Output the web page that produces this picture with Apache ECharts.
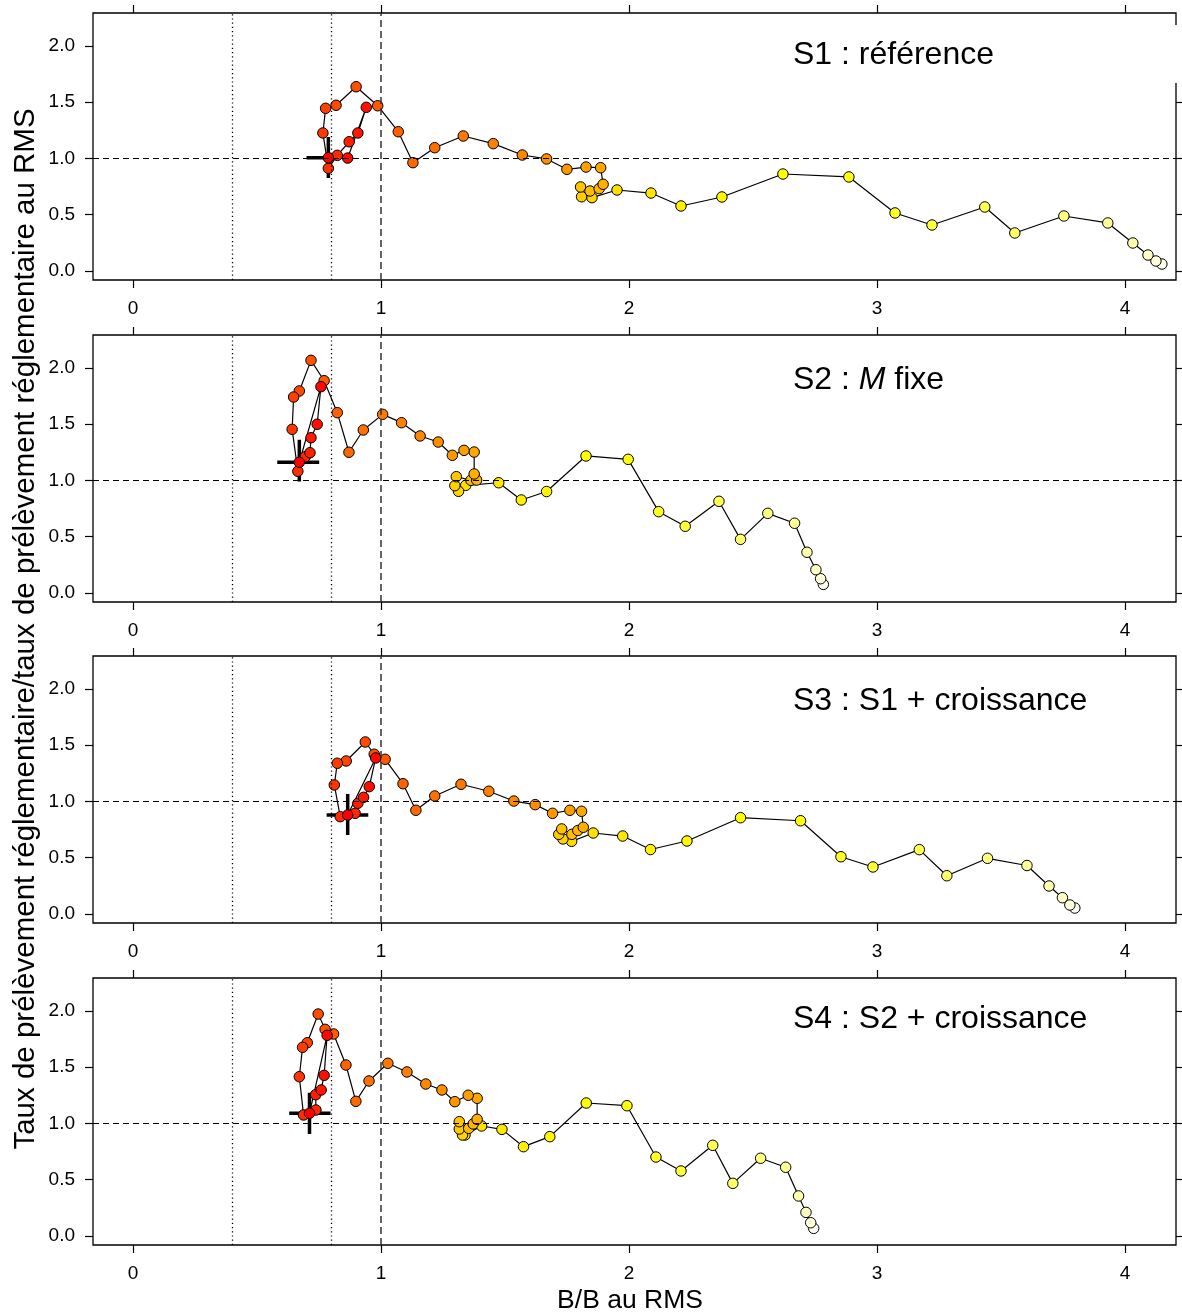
<!DOCTYPE html>
<html>
<head>
<meta charset="utf-8">
<title>Trajectoires B/B RMS</title>
<script src="https://cdn.jsdelivr.net/npm/echarts@6.0.0/dist/echarts.min.js"></script>
<style>
  html, body { margin: 0; padding: 0; background: #fff; }
  #chart { width: 1182px; height: 1314px; }
</style>
</head>
<body>
<div id="chart"></div>
<script>
// trajectories, oldest year first (B/B au RMS, F/F au RMS)
const s1X = [4.149, 4.125, 4.093, 4.032, 3.931, 3.754, 3.556, 3.435, 3.222, 3.073, 2.887, 2.621, 2.375, 2.210, 2.089, 1.952,
  1.851, 1.809, 1.805, 1.843, 1.880, 1.896,
  1.886, 1.827, 1.750, 1.668, 1.570, 1.453, 1.332, 1.217, 1.129, 1.070, 0.987, 0.900, 0.819, 0.777, 0.766,
  0.788, 0.824, 0.872, 0.907, 0.941, 0.866, 0.788]
const s1Y = [0.062, 0.089, 0.142, 0.249, 0.427, 0.489, 0.338, 0.569, 0.409, 0.516, 0.836, 0.862, 0.658, 0.578, 0.693, 0.720,
  0.652, 0.660, 0.747, 0.711, 0.732, 0.771,
  0.918, 0.924, 0.904, 0.996, 1.031, 1.132, 1.200, 1.096, 0.963, 1.238, 1.469, 1.638, 1.473, 1.446, 1.227,
  0.913, 1.028, 1.149, 1.227, 1.455, 1.004, 1.007]

const s2X = [2.784, 2.773, 2.754, 2.718, 2.668, 2.560, 2.450, 2.363, 2.227, 2.120, 1.997, 1.827, 1.668, 1.566, 1.475,
  1.342, 1.313, 1.298, 1.304, 1.363, 1.386, 1.376,
  1.376, 1.335, 1.288, 1.231, 1.158, 1.083, 1.007, 0.929, 0.871, 0.824, 0.771, 0.718, 0.671, 0.648, 0.642,
  0.665, 0.695, 0.714, 0.718, 0.743, 0.758, 0.671]
const s2Y = [0.077, 0.127, 0.207, 0.362, 0.620, 0.708, 0.477, 0.815, 0.593, 0.723, 1.188, 1.218, 0.902, 0.827, 0.980,
  0.957, 0.904, 0.954, 1.034, 1.002, 1.004, 1.058,
  1.253, 1.268, 1.224, 1.342, 1.396, 1.514, 1.588, 1.449, 1.251, 1.603, 1.887, 2.068, 1.796, 1.742, 1.455,
  1.082, 1.212, 1.247, 1.380, 1.500, 1.834, 1.162]

const s3X = [3.798, 3.778, 3.748, 3.694, 3.605, 3.446, 3.282, 3.171, 2.984, 2.855, 2.692, 2.450, 2.234, 2.087, 1.975, 1.856,
  1.769, 1.734, 1.717, 1.729, 1.770, 1.794, 1.816,
  1.809, 1.762, 1.692, 1.622, 1.536, 1.435, 1.323, 1.217, 1.141, 1.089, 1.017, 0.973, 0.937, 0.860, 0.824, 0.812,
  0.836, 0.896, 0.907, 0.930, 0.953, 0.979, 0.866]
const s3Y = [0.053, 0.080, 0.145, 0.249, 0.431, 0.495, 0.340, 0.572, 0.418, 0.509, 0.829, 0.856, 0.649, 0.573, 0.693, 0.720,
  0.646, 0.667, 0.708, 0.756, 0.708, 0.742, 0.771,
  0.913, 0.922, 0.895, 0.972, 1.004, 1.091, 1.153, 1.049, 0.922, 1.158, 1.375, 1.420, 1.529, 1.360, 1.340, 1.147,
  0.865, 0.895, 0.984, 1.037, 1.132, 1.387, 0.880]

const s4X = [2.745, 2.733, 2.714, 2.684, 2.632, 2.531, 2.419, 2.338, 2.210, 2.109, 1.992, 1.828, 1.681, 1.575, 1.488, 1.406,
  1.339, 1.329, 1.316, 1.316, 1.354, 1.372, 1.388,
  1.388, 1.352, 1.298, 1.246, 1.181, 1.105, 1.028, 0.952, 0.899, 0.859, 0.809, 0.775, 0.747, 0.703, 0.684, 0.671,
  0.688, 0.738, 0.737, 0.759, 0.771, 0.783, 0.712]
const s4Y = [0.068, 0.118, 0.210, 0.356, 0.611, 0.691, 0.468, 0.806, 0.578, 0.702, 1.158, 1.182, 0.883, 0.794, 0.948, 0.978,
  0.898, 0.898, 0.951, 1.016, 0.957, 0.996, 1.037,
  1.224, 1.251, 1.194, 1.298, 1.351, 1.458, 1.535, 1.378, 1.197, 1.520, 1.796, 1.837, 1.973, 1.718, 1.677, 1.416,
  1.076, 1.120, 1.256, 1.298, 1.428, 1.784, 1.091]

// last-year intervals (crosshair)
const crossCenter = [[0.788, 1.007], [0.671, 1.162], [0.866, 0.880], [0.712, 1.091]]
const crossXRange = [[0.700, 0.795], [0.582, 0.751], [0.781, 0.949], [0.630, 0.797]]
const crossYRange = [[0.827, 1.190], [0.991, 1.362], [0.702, 1.067], [0.907, 1.274]]

const panelNames = ['S1 : référence', 'S2 : {i|M}{t| fixe}', 'S3 : S1 + croissance', 'S4 : S2 + croissance']
const xTicks = [0, 1, 2, 3, 4]
const yTicks = [0, 0.5, 1, 1.5, 2]
const refX = [0.4, 0.8, 1]
const refY = [1]

const FONT = '"Liberation Sans", Arial, Helvetica, sans-serif'
const panelTops = [13, 335, 656, 978]
const labelY = [55, 380, 701, 1019]

// R heat.colors(n)
function hsv(h, s, v) {
  const i = Math.floor(h * 6), f = h * 6 - i
  const p = v * (1 - s), q = v * (1 - f * s), t = v * (1 - (1 - f) * s)
  let r, g, b
  if (i === 0) { r = v; g = t; b = p } else { r = q; g = v; b = p }
  const c = x => Math.round(x * 255)
  return 'rgb(' + c(r) + ',' + c(g) + ',' + c(b) + ')'
}
function heatColors(n) {
  const j = Math.floor(n / 4), i = n - j
  const cols = []
  for (let k = 0; k < i; k++) cols.push(hsv(i > 1 ? k / (i - 1) / 6 : 0, 1, 1))
  for (let k = 0; k < j; k++) {
    const from = 1 - 1 / (2 * j), to = 1 / (2 * j)
    cols.push(hsv(1 / 6, j > 1 ? from + k * (to - from) / (j - 1) : 0.5, 1))
  }
  return cols
}

const panels = [[s1X, s1Y], [s2X, s2Y], [s3X, s3Y], [s4X, s4Y]]
const chart = echarts.init(document.getElementById('chart'))

const grid = [], xAxis = [], yAxis = [], series = [], graphic = []

function makeX(i, pos, labels) {
  return {
    gridIndex: i, type: 'value', position: pos, min: -0.161, max: 4.206,
    axisLine: { show: false, onZero: false },
    axisTick: { show: true, inside: false, length: 8, customValues: xTicks, lineStyle: { color: '#000', width: 1.2 } },
    axisLabel: { show: labels, customValues: xTicks, margin: 19, fontSize: 19, color: '#000', fontFamily: FONT,
      formatter: v => String(v) },
    splitLine: { show: false }
  }
}
function makeY(i, pos, labels) {
  return {
    gridIndex: i, type: 'value', position: pos, min: -0.08, max: 2.2933,
    axisLine: { show: false, onZero: false },
    axisTick: { show: true, inside: false, length: 8, customValues: yTicks, lineStyle: { color: '#000', width: 1.2 } },
    axisLabel: { show: labels, customValues: yTicks, margin: 18, fontSize: 19, color: '#000', fontFamily: FONT,
      formatter: v => v.toFixed(1) },
    splitLine: { show: false }
  }
}

panels.forEach((p, i) => {
  const xs = p[0], ys = p[1]
  const n = xs.length
  const cols = heatColors(n)
  grid.push({ left: 93, top: panelTops[i], width: 1083, height: 267, show: true,
    borderColor: '#000', borderWidth: 1.3, backgroundColor: 'rgba(0,0,0,0)' })
  xAxis.push(makeX(i, 'bottom', true), makeX(i, 'top', false))
  yAxis.push(makeY(i, 'left', true), makeY(i, 'right', false))
  const xi = 2 * i, yi = 2 * i

  // reference lines
  series.push({
    type: 'line', xAxisIndex: xi, yAxisIndex: yi, data: [], z: 1, silent: true,
    markLine: {
      silent: true, symbol: ['none', 'none'], label: { show: false }, animation: false,
      data: [
        { xAxis: refX[0], lineStyle: { type: [1.2, 3], color: '#000', width: 1.3 } },
        { xAxis: refX[1], lineStyle: { type: [1.2, 3], color: '#000', width: 1.3 } },
        { xAxis: refX[2], lineStyle: { type: [7, 4], color: '#333', width: 1.5 } },
        { yAxis: refY[0], lineStyle: { type: [6, 4], color: '#000', width: 1.2 } }
      ]
    }
  })

  // crosshair for the last year
  const c = crossCenter[i]
  series.push({
    type: 'line', xAxisIndex: xi, yAxisIndex: yi, z: 2, silent: true, symbol: 'none',
    lineStyle: { color: '#000', width: 3.5 },
    data: [[crossXRange[i][0], c[1]], [crossXRange[i][1], c[1]]]
  })
  series.push({
    type: 'line', xAxisIndex: xi, yAxisIndex: yi, z: 2, silent: true, symbol: 'none',
    lineStyle: { color: '#000', width: 3.5 },
    data: [[c[0], crossYRange[i][0]], [c[0], crossYRange[i][1]]]
  })

  // trajectory
  series.push({
    type: 'line', xAxisIndex: xi, yAxisIndex: yi, z: 3,
    symbol: 'circle', symbolSize: 10.5,
    lineStyle: { color: '#000', width: 1.2 },
    itemStyle: { borderColor: '#000', borderWidth: 1 },
    emphasis: { disabled: true },
    data: xs.map((x, k) => ({ value: [x, ys[k]], itemStyle: { color: cols[n - 1 - k] } }))
  })

  // panel label
  graphic.push({
    type: 'text', x: 793, y: labelY[i], z: 100,
    style: {
      text: panelNames[i], fill: '#000', font: '32px ' + FONT, verticalAlign: 'middle', align: 'left',
      rich: {
        i: { fontSize: 32, fontStyle: 'italic', fontFamily: FONT, fill: '#000' },
        t: { fontSize: 32, fontFamily: FONT, fill: '#000' }
      }
    }
  })
})

// white key box covering the right border of the first panel
graphic.unshift({ type: 'rect', z: 90, shape: { x: 780, y: 25, width: 410, height: 58 }, style: { fill: '#fff' } })

graphic.push({
  type: 'text', x: 26, y: 629, rotation: Math.PI / 2, z: 100,
  style: { text: 'Taux de prélèvement réglementaire/taux de prélèvement réglementaire au RMS',
    font: '29.5px ' + FONT, fill: '#000', align: 'center', verticalAlign: 'middle' }
})
graphic.push({
  type: 'text', x: 630, y: 1301, z: 100,
  style: { text: 'B/B au RMS', font: '26.5px ' + FONT, fill: '#000', align: 'center', verticalAlign: 'middle' }
})

chart.setOption({
  animation: false,
  backgroundColor: '#fff',
  textStyle: { fontFamily: FONT },
  grid: grid,
  xAxis: xAxis,
  yAxis: yAxis,
  series: series,
  graphic: graphic
})
</script>
</body>
</html>
